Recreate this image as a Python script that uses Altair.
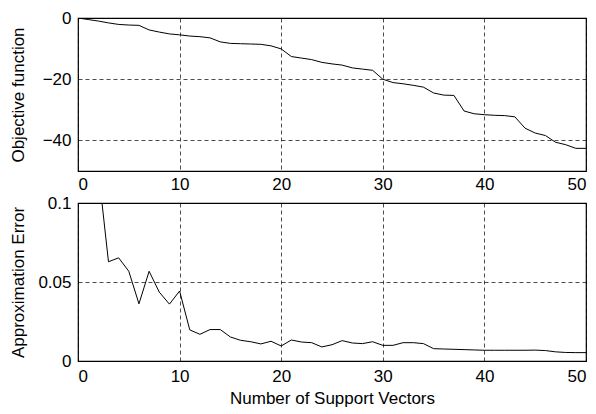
import altair as alt
import pandas as pd

# Top panel: objective function vs number of support vectors
n_top = list(range(0, 51))
objective = [0, -0.5, -1.0, -1.6, -2.1, -2.3, -2.4, -3.9, -4.6, -5.2,
             -5.5, -5.9, -6.1, -6.5, -7.8, -8.3, -8.4, -8.5, -8.6, -9.1,
             -10.1, -12.6, -13.1, -13.6, -14.5, -15.0, -15.4, -16.3, -16.7, -17.1,
             -20.0, -21.1, -21.5, -22.0, -22.6, -24.5, -25.2, -25.3, -30.4, -31.3,
             -31.6, -31.8, -31.9, -32.3, -36.0, -37.6, -38.4, -40.6, -41.4, -42.6,
             -42.6]

# Bottom panel: approximation error
n_bot = list(range(2, 51))
approx_err = [0.121, 0.0628, 0.0653, 0.0568, 0.0362, 0.0568, 0.0436, 0.036, 0.0443,
              0.0197, 0.0169, 0.0199, 0.0199, 0.0152, 0.0131, 0.0122, 0.0108, 0.0125,
              0.0095, 0.0133, 0.0120, 0.0116, 0.0089, 0.0103, 0.0129, 0.0114, 0.0110,
              0.0122, 0.0099, 0.0099, 0.0116, 0.0116, 0.0110, 0.0078, 0.0076, 0.0074,
              0.0072, 0.0070, 0.0068, 0.0068, 0.0068, 0.0068, 0.0068, 0.0069, 0.0066,
              0.0058, 0.0054, 0.0053, 0.0053]

x_ticks = [0, 10, 20, 30, 40, 50]
top_ticks = [0, -20, -40]
bot_ticks = [0, 0.05, 0.1]

df_top = pd.DataFrame({"n": n_top, "obj": objective})
df_bot = pd.DataFrame({"n": n_bot, "err": approx_err})

FONT = "Liberation Sans"
FS = 17
W = 508

axis_common = dict(
    grid=True, gridColor="black", gridDash=[4, 3], gridWidth=0.7, gridOpacity=1,
    domain=False, ticks=False, labelFont=FONT, labelFontSize=FS, labelColor="black",
    titleFont=FONT, titleFontSize=FS, titleColor="black", titleFontWeight="normal",
)

x_scale = alt.Scale(domain=[0, 50], nice=False, zero=False)

top = alt.Chart(df_top).mark_line(color="black", strokeWidth=1, clip=True).encode(
    x=alt.X("n:Q", scale=x_scale,
            axis=alt.Axis(values=x_ticks, title=None, labelPadding=5, **axis_common)),
    y=alt.Y("obj:Q", scale=alt.Scale(domain=[-50, 0], nice=False, zero=False),
            axis=alt.Axis(values=top_ticks, title="Objective function", labelPadding=7,
                          titleX=-60, titleBaseline="middle", **axis_common)),
).properties(width=W, height=153)

bot = alt.Chart(df_bot).mark_line(color="black", strokeWidth=1, clip=True).encode(
    x=alt.X("n:Q", scale=x_scale,
            axis=alt.Axis(values=x_ticks, title="Number of Support Vectors",
                          labelPadding=7, titlePadding=6, **axis_common)),
    y=alt.Y("err:Q", scale=alt.Scale(domain=[0, 0.1], nice=False, zero=False),
            axis=alt.Axis(values=bot_ticks, format="~g", title="Approximation Error",
                          labelPadding=7, titleX=-60, titleBaseline="middle",
                          **axis_common)),
).properties(width=W, height=158)

chart = alt.vconcat(top, bot, spacing=0).properties(
    padding={"left": 0, "top": 0, "right": 0, "bottom": 0}
).configure(
    background="white",
    view=alt.ViewConfig(stroke="black", strokeWidth=1.2),
)

chart.save("out.html", embed_options={"renderer": "svg", "actions": False})
